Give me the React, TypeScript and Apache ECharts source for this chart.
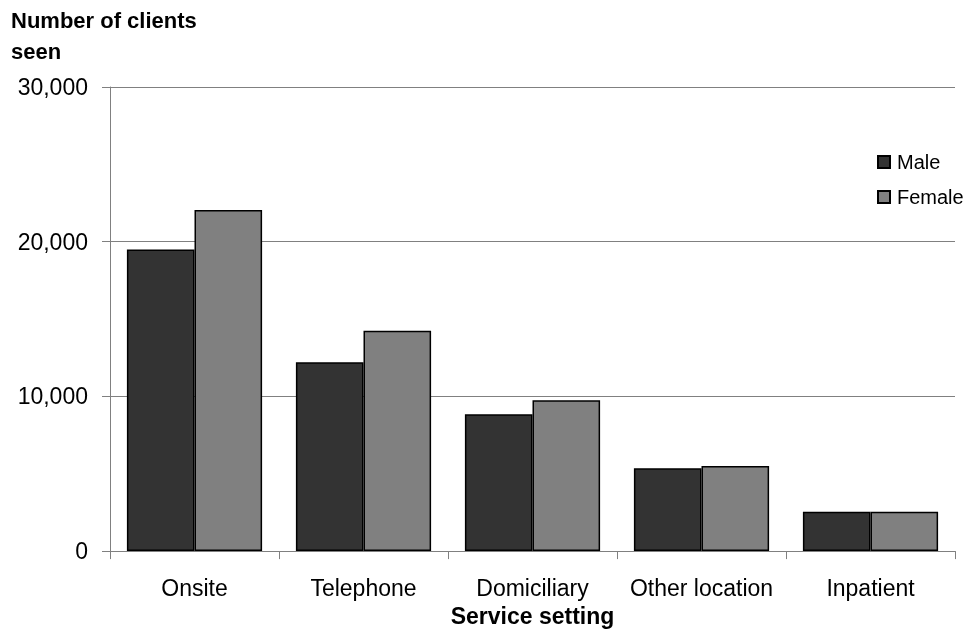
import React, { useEffect, useRef } from "react";
import * as echarts from "echarts";

const categories = ["Onsite", "Telephone", "Domiciliary", "Other location", "Inpatient"];
const maleValues = [19500, 12200, 8850, 5350, 2550];
const femaleValues = [22050, 14250, 9750, 5500, 2550];
const yTicks = [0, 10000, 20000, 30000];

export default function App() {
  const ref = useRef<HTMLDivElement>(null);
  useEffect(() => {
    if (!ref.current) return;
    const chart = echarts.init(ref.current, null, { renderer: "svg" });
    const font = "Arial, 'Liberation Sans', sans-serif";
    chart.setOption({
      animation: false,
      textStyle: { fontFamily: font },
      grid: { left: 110, right: 11, top: 87, bottom: 76, containLabel: false },
      graphic: [
        {
          type: "text",
          left: 11,
          top: 5,
          style: {
            text: "Number of clients\nseen",
            font: `bold 22px ${font}`,
            lineHeight: 31,
            fill: "#000",
          },
        },
      ],
      legend: {
        orient: "vertical",
        left: 877,
        top: 152,
        padding: 0,
        itemWidth: 12,
        itemHeight: 12,
        itemGap: 15,
        icon: "rect",
        textStyle: { fontSize: 20, color: "#000", fontFamily: font, padding: [0, 0, 0, 2] },
        data: ["Male", "Female"],
      },
      xAxis: {
        type: "category",
        data: categories,
        name: "Service setting",
        nameLocation: "middle",
        nameGap: 45,
        nameTextStyle: { fontSize: 23, fontWeight: "bold", color: "#000", fontFamily: font },
        axisLine: { lineStyle: { color: "#808080", width: 1 } },
        axisTick: { show: true, length: 8, alignWithLabel: false, lineStyle: { color: "#808080" } },
        axisLabel: { fontSize: 23, color: "#000", margin: 25, interval: 0, fontFamily: font },
      },
      yAxis: {
        type: "value",
        min: 0,
        max: 30000,
        interval: 10000,
        axisLine: { show: true, lineStyle: { color: "#808080", width: 1 } },
        axisTick: { show: true, length: 8, lineStyle: { color: "#808080" } },
        splitLine: { show: true, lineStyle: { color: "#808080", width: 1 } },
        axisLabel: {
          fontSize: 23,
          color: "#000",
          margin: 22,
          fontFamily: font,
          formatter: (v: number) => (yTicks.includes(v) ? v.toLocaleString("en-US") : ""),
        },
      },
      series: [
        {
          name: "Male",
          type: "bar",
          data: maleValues,
          barGap: "0%",
          barCategoryGap: "20%",
          itemStyle: { color: "#333333", borderColor: "#000", borderWidth: 1.5 },
        },
        {
          name: "Female",
          type: "bar",
          data: femaleValues,
          barGap: "0%",
          barCategoryGap: "20%",
          itemStyle: { color: "#808080", borderColor: "#000", borderWidth: 1.5 },
        },
      ],
    });
    return () => chart.dispose();
  }, []);
  return (
    <div style={{ width: 966, height: 632, position: "fixed", left: 0, top: 0, overflow: "hidden" }}>
      <div ref={ref} style={{ width: 966, height: 632 }} />
    </div>
  );
}
